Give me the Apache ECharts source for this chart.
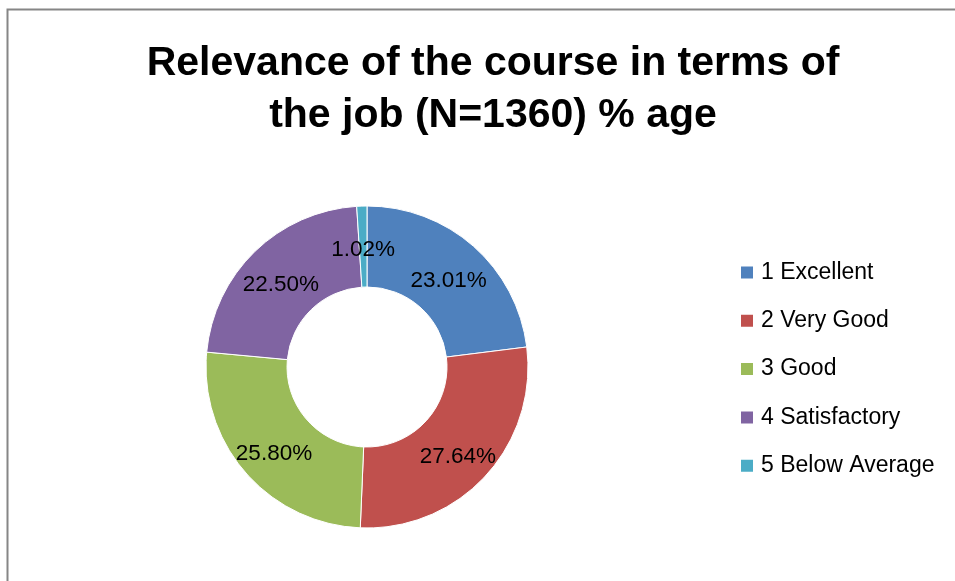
<!DOCTYPE html>
<html>
<head>
<meta charset="utf-8">
<script src="https://cdn.jsdelivr.net/npm/echarts@6/dist/echarts.min.js"></script>
<style>
  html, body { margin: 0; padding: 0; background: #fff; }
  #main { width: 955px; height: 581px; }
</style>
</head>
<body>
<div id="main"></div>
<script>
var myChart = echarts.init(document.getElementById('main'));

// ratings and their share in %
var categories = ['1 Excellent', '2 Very Good', '3 Good', '4 Satisfactory', '5 Below Average'];
var values = [23.01, 27.64, 25.80, 22.50, 1.02];
var colors = ['#4F81BD', '#C0504D', '#9BBB59', '#8064A2', '#4BACC6'];

var pieData = [];
for (var i = 0; i < categories.length; i++) {
    pieData.push({ name: categories[i], value: values[i], itemStyle: { color: colors[i] } });
}

var option = {
    backgroundColor: '#fff',
    animation: false,
    title: {
        text: 'Relevance of the course in terms of\nthe job (N=1360) % age',
        left: 493,
        textAlign: 'center',
        top: 38,
        padding: 0,
        textStyle: {
            fontFamily: 'Liberation Sans',
            fontWeight: 'bold',
            fontSize: 41,
            lineHeight: 52,
            color: '#000'
        }
    },
    graphic: [{
        type: 'rect',
        shape: { x: 7.5, y: 9.5, width: 1000, height: 1000 },
        style: { fill: 'none', stroke: '#868686', lineWidth: 2 },
        silent: true
    }],
    legend: {
        orient: 'vertical',
        left: 739,
        top: 261,
        padding: 0,
        itemWidth: 14,
        itemHeight: 14,
        itemGap: 25.3,
        icon: 'rect',
        data: categories,
        textStyle: {
            fontFamily: 'Liberation Sans',
            fontSize: 23,
            lineHeight: 23,
            color: '#000',
            padding: [0, 0, 0, 2]
        }
    },
    series: [{
        type: 'pie',
        center: [367, 367],
        radius: [80, 161],
        startAngle: 90,
        clockwise: true,
        avoidLabelOverlap: false,
        itemStyle: { borderColor: '#fff', borderWidth: 1 },
        label: {
            show: true,
            position: 'inside',
            fontFamily: 'Liberation Sans',
            fontSize: 22.5,
            color: '#000',
            formatter: function (p) { return p.value.toFixed(2) + '%'; }
        },
        labelLayout: { dy: 6 },
        labelLine: { show: false },
        emphasis: { disabled: true },
        data: pieData
    }]
};

myChart.setOption(option);
</script>
</body>
</html>
